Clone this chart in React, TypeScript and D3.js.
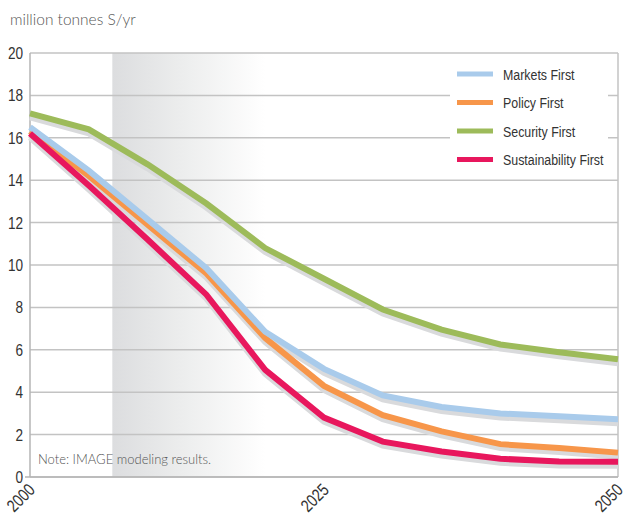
import React from "react";
import * as d3 from "d3";

const years = [2000, 2005, 2010, 2015, 2020, 2025, 2030, 2035, 2040, 2045, 2050];
const marketsFirst = [16.5, 14.45, 12.15, 9.85, 6.85, 5.1, 3.85, 3.3, 3.0, 2.86, 2.72];
const policyFirst = [16.3, 14.2, 11.9, 9.6, 6.55, 4.3, 2.92, 2.15, 1.55, 1.37, 1.15];
const securityFirst = [17.15, 16.4, 14.75, 12.9, 10.8, 9.35, 7.9, 6.95, 6.25, 5.88, 5.55];
const sustainabilityFirst = [16.2, 13.75, 11.2, 8.6, 5.05, 2.8, 1.67, 1.2, 0.86, 0.73, 0.72];

const seriesNames = ["Markets First", "Policy First", "Security First", "Sustainability First"];
const seriesColors = ["#a9cbeb", "#f7964a", "#9dbb5a", "#e8175d"];
const seriesValues = [marketsFirst, policyFirst, securityFirst, sustainabilityFirst];
const drawOrder = [2, 1, 0, 3];

const yTicks = [0, 2, 4, 6, 8, 10, 12, 14, 16, 18, 20];
const xTickLabels = [2000, 2025, 2050];
const bandStart = 2007;
const bandEnd = 2020;

const narrow = "'Liberation Sans', Arial, sans-serif";
const SQ = 0.8;

export default function App() {
  const W = 634, H = 517;
  const x = d3.scaleLinear().domain([2000, 2050]).range([30, 618]);
  const y = d3.scaleLinear().domain([0, 20]).range([477, 53]);
  const line = d3.line<number>().x((_, i) => x(years[i])).y((d) => y(d));
  const shadowLine = d3.line<number>().x((_, i) => x(years[i])).y((d) => y(d) + 4);

  return (
    <svg width={W} height={H} style={{ position: "absolute", left: 0, top: 0, background: "#fff" }}>
      <defs>
        <linearGradient id="band" x1="0" x2="1" y1="0" y2="0">
          <stop offset="0" stopColor="#dcdddf" />
          <stop offset="0.45" stopColor="#eceded" />
          <stop offset="1" stopColor="#ffffff" />
        </linearGradient>
      </defs>
      <text x={10} y={25} fontFamily="Lato, sans-serif" fontWeight={300} fontSize={15.5} fill="#555">
        million tonnes S/yr
      </text>
      <rect x={x(bandStart)} y={y(20)} width={x(bandEnd) - x(bandStart)} height={y(0) - y(20)} fill="url(#band)" />
      {yTicks.map((t) => (
        <g key={t}>
          <line x1={x(2000)} x2={x(2050)} y1={y(t)} y2={y(t)} stroke="#c3c3c3" strokeWidth={1.5} />
          <text
            transform={`translate(23, ${y(t) + 6}) scale(${SQ}, 1)`}
            textAnchor="end"
            fontFamily={narrow}
            fontSize={17}
            fill="#333"
          >
            {t}
          </text>
        </g>
      ))}
      <line x1={x(2000)} x2={x(2000)} y1={y(20)} y2={y(0)} stroke="#b5b5b5" strokeWidth={1.5} />
      <line x1={x(2050)} x2={x(2050)} y1={y(20)} y2={y(0)} stroke="#c3c3c3" strokeWidth={1.5} />
      <line x1={25} x2={x(2050)} y1={y(0)} y2={y(0)} stroke="#b5b5b5" strokeWidth={1.5} />
      <text x={38} y={464} fontFamily="Lato, sans-serif" fontWeight={300} fontSize={13} fill="#555">
        Note: IMAGE modeling results.
      </text>
      {drawOrder.map((k) => (
        <path key={"s" + k} d={shadowLine(seriesValues[k]) || ""} fill="none" stroke="#d9dadc" strokeWidth={6} />
      ))}
      {drawOrder.map((k) => (
        <path key={"l" + k} d={line(seriesValues[k]) || ""} fill="none" stroke={seriesColors[k]} strokeWidth={6} />
      ))}
      <rect x={450} y={57} width={158} height={118} fill="#fff" />
      {seriesNames.map((n, i) => (
        <g key={n} transform={`translate(0, ${74 + i * 28.5})`}>
          <line x1={457} x2={493} y1={0} y2={0} stroke={seriesColors[i]} strokeWidth={5} />
          <text transform={`translate(503, 5.5) scale(${SQ}, 1)`} fontFamily={narrow} fontSize={15.5} fill="#333">
            {n}
          </text>
        </g>
      ))}
      {xTickLabels.map((t) => (
        <text
          key={t}
          transform={`translate(${x(t) + 6}, ${491}) rotate(-45) scale(${SQ}, 1)`}
          textAnchor="end"
          fontFamily={narrow}
          fontSize={17.5}
          fill="#333"
        >
          {t}
        </text>
      ))}
    </svg>
  );
}
